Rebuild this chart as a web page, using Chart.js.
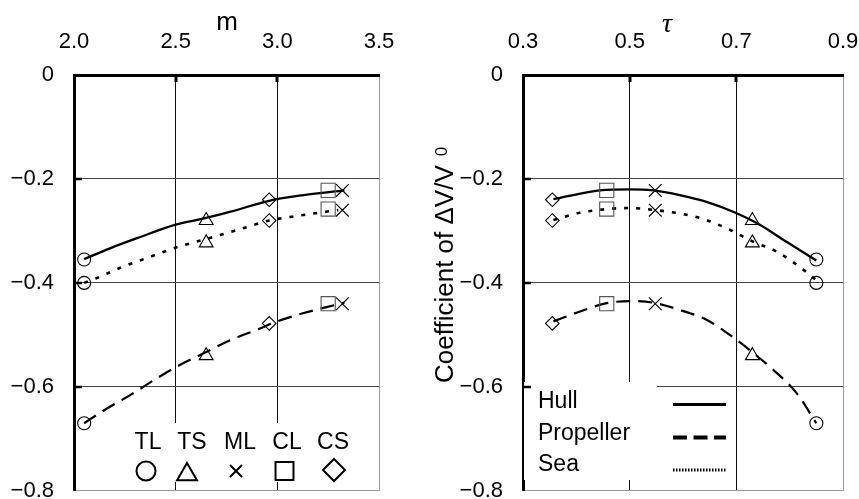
<!DOCTYPE html>
<html><head><meta charset="utf-8">
<script src="https://cdn.jsdelivr.net/npm/chart.js@4"></script>
<style>
html,body{margin:0;padding:0;background:#fff;overflow:hidden;width:859px;height:499px}
#w1{position:absolute;left:0;top:0;width:430px;height:524px}
#w2{position:absolute;left:430px;top:0;width:429px;height:524px}
</style></head><body>
<div id="w1"><canvas id="c1"></canvas></div>
<div id="w2"><canvas id="c2"></canvas></div>
<script>
// ---- data ----
const conditions = ['TL','TS','ML','CL','CS'];
const mValues   = [2.05, 2.65, 3.32, 3.25, 2.96];
const tauValues = [0.85, 0.73, 0.548, 0.457, 0.355];
const hullValues = [-0.355, -0.280, -0.222, -0.222, -0.240];
const seaValues  = [-0.400, -0.323, -0.260, -0.258, -0.280];
const propValues = [-0.670, -0.540, -0.440, -0.440, -0.478];

// fitted curves vs m
const hullFitM    = [2.05, 2.18, 2.31, 2.50, 2.64, 2.77, 2.96, 3.13, 3.33];
const hullFitMVal = [-0.354, -0.333, -0.314, -0.288, -0.276, -0.263, -0.242, -0.231, -0.222];
const seaFitM     = [2.05, 2.11, 2.24, 2.38, 2.51, 2.70, 2.83, 2.96, 3.10, 3.24, 3.30];
const seaFitMVal  = [-0.400, -0.391, -0.369, -0.349, -0.331, -0.310, -0.295, -0.280, -0.271, -0.263, -0.260];
const propFitM    = [2.05, 2.14, 2.28, 2.41, 2.52, 2.64, 2.77, 2.90, 3.00, 3.13, 3.29, 3.33];
const propFitMVal = [-0.670, -0.647, -0.615, -0.583, -0.558, -0.535, -0.510, -0.490, -0.474, -0.458, -0.442, -0.438];
// fitted curves vs tau
const hullFitT    = [0.357, 0.394, 0.444, 0.501, 0.544, 0.594, 0.644, 0.694, 0.744, 0.794, 0.850];
const hullFitTVal = [-0.239, -0.231, -0.222, -0.220, -0.222, -0.231, -0.244, -0.263, -0.288, -0.321, -0.357];
const seaFitT     = [0.357, 0.407, 0.457, 0.501, 0.557, 0.607, 0.644, 0.688, 0.732, 0.776, 0.826, 0.850];
const seaFitTVal  = [-0.279, -0.265, -0.258, -0.256, -0.261, -0.269, -0.279, -0.298, -0.321, -0.340, -0.375, -0.395];
const propFitT    = [0.357, 0.407, 0.457, 0.501, 0.544, 0.594, 0.644, 0.701, 0.732, 0.769, 0.813, 0.850];
const propFitTVal = [-0.474, -0.455, -0.439, -0.435, -0.438, -0.452, -0.471, -0.510, -0.535, -0.567, -0.612, -0.670];

const seriesNames = ['Hull','Propeller','Sea'];
const mTicks = [2.0, 2.5, 3.0, 3.5];
const tauTicks = [0.3, 0.5, 0.7, 0.9];
const yTicks = [0, -0.2, -0.4, -0.6, -0.8];

// ---- styles ----
const FONT = "'Liberation Sans', Arial, sans-serif";
const markerStyles = {TL:'circle', TS:'triangle', ML:'crossRot', CL:'rect', CS:'rectRot'};
const markerRadius = {TL:6.5, TS:8, ML:9, CL:10, CS:6.8};
const markerColor  = {TL:'#000', TS:'#000', ML:'#000', CL:'#555', CS:'#000'};
const lineStyles = {
  Hull: {dash: [], width: 2.3},
  Propeller: {dash: [14, 8], width: 2.2},
  Sea: {dash: [4, 8], width: 2.6}
};

Chart.defaults.font.family = FONT;
Chart.defaults.color = '#000';

function pts(xs, ys){ return xs.map((x,i)=>({x:x, y:ys[i]})); }

function lineDs(name, data){
  const s = lineStyles[name];
  return {label:name, data:data, showLine:true, pointRadius:0, borderColor:'#000',
    borderWidth:s.width, borderDash:s.dash, cubicInterpolationMode:'monotone', fill:false, order:2};
}
function markerDs(name, xs, ys){
  return {label:name+' data', data:pts(xs, ys), showLine:false,
    pointStyle: conditions.map(c=>markerStyles[c]),
    pointRadius: conditions.map(c=>markerRadius[c]),
    pointBorderColor: conditions.map(c=>markerColor[c]),
    pointBackgroundColor:'rgba(0,0,0,0)', pointBorderWidth:1.1, order:1};
}

const overlay = {
  id:'overlay',
  beforeDatasetsDraw(chart, args, opts){
    const ctx = chart.ctx, a = chart.chartArea;
    ctx.save();
    ctx.fillStyle = '#fff';
    const r = opts.box;
    ctx.fillRect(r[0], r[1], r[2], r[3]);
    ctx.strokeStyle = '#000';
    const xs = chart.scales.x, ys = chart.scales.y;
    ctx.lineWidth = 3;
    opts.xTicks.slice(1, -1).forEach(v=>{
      const px = Math.round(xs.getPixelForValue(v));
      ctx.beginPath(); ctx.moveTo(px, a.top); ctx.lineTo(px, a.top+7); ctx.stroke();
    });
    ctx.lineWidth = 2.5;
    yTicks.slice(1, -1).forEach(v=>{
      const py = Math.round(ys.getPixelForValue(v));
      ctx.beginPath(); ctx.moveTo(a.left, py); ctx.lineTo(a.left+8, py); ctx.stroke();
    });
    ctx.restore();
  },
  afterDraw(chart, args, opts){
    const ctx = chart.ctx, a = chart.chartArea;
    ctx.save();
    ctx.fillStyle = '#000';
    ctx.textBaseline = 'alphabetic';
    ctx.textAlign = 'center';
    ctx.font = opts.titleFont;
    ctx.fillText(opts.title, opts.titleX, opts.titleY);
    opts.extra(ctx, a);
    ctx.restore();
  }
};

function makeChart(id, xs, xMin, xMax, xTickArr, fits, yWidth, padRight, ov){
  const hull = lineDs('Hull', pts(fits[0][0], fits[0][1]));
  const prop = lineDs('Propeller', pts(fits[1][0], fits[1][1]));
  const sea = lineDs('Sea', pts(fits[2][0], fits[2][1]));
  return new Chart(document.getElementById(id), {
    type:'scatter',
    data:{datasets:[hull, prop, sea,
      markerDs('Hull', xs, hullValues), markerDs('Propeller', xs, propValues), markerDs('Sea', xs, seaValues)]},
    options:{
      responsive:true, maintainAspectRatio:false, animation:false, devicePixelRatio:1,
      layout:{padding:{left:0, right:padRight, top:0, bottom:29}},
      plugins:{legend:{display:false}, tooltip:{enabled:false}, overlay:ov},
      scales:{
        x:{type:'linear', position:'top', min:xMin, max:xMax,
          afterBuildTicks:s=>{ s.ticks = xTickArr.map(v=>({value:v})); },
          afterFit:s=>{ s.height = 75; s.paddingLeft = 0; s.paddingRight = 0; },
          ticks:{padding:20, maxRotation:0, autoSkip:false, font:{size:22}, color:'#000',
            callback:v=>Number(v).toFixed(1)},
          grid:{drawTicks:false, lineWidth:1,
            color:c=> (c.tick && Math.abs(c.tick.value - xMax) < 1e-6) ? '#999' : '#111'},
          border:{display:true, width:3, color:'#000'}
        },
        y:{type:'linear', min:-0.8, max:0,
          afterBuildTicks:s=>{ s.ticks = yTicks.map(v=>({value:v})); },
          afterFit:s=>{ s.width = yWidth; },
          ticks:{padding:20, font:{size:22}, color:'#000',
            callback:v=> Math.abs(v) < 1e-9 ? '0' : '\u2212' + Math.abs(v).toFixed(1)},
          grid:{drawTicks:false, lineWidth:1,
            color:c=> { if(!c.tick) return '#444'; const v=c.tick.value;
              if (Math.abs(v+0.8)<1e-6) return '#999'; if (Math.abs(v)<1e-6) return 'rgba(0,0,0,0)'; return '#444'; }},
          border:{display:true, width:3, color:'#000'}
        }
      }
    },
    plugins:[overlay]
  });
}

makeChart('c1', mValues, 2.0, 3.5, mTicks,
  [[hullFitM, hullFitMVal], [propFitM, propFitMVal], [seaFitM, seaFitMVal]], 74, 51,
  {box:[112, 423, 266, 59], xTicks:mTicks, title:'m', titleFont:'26px '+FONT, titleX:227, titleY:30,
   extra:(ctx, a)=>{
     ctx.font = '23px '+FONT;
     const lx = [148, 192, 240, 287, 333];
     conditions.forEach((c,i)=>ctx.fillText(c, lx[i], 449));
     const sx = [146, 187, 236, 284.5, 334];
     const sy = [471, 474.5, 471, 471, 470];
     const sr = {TL:9.5, TS:11.5, ML:8.5, CL:12.7, CS:11};
     conditions.forEach((c,i)=>{
       ctx.strokeStyle = '#000'; ctx.fillStyle = 'rgba(0,0,0,0)';
       ctx.lineWidth = 2;
       Chart.helpers.drawPoint(ctx, {pointStyle:markerStyles[c], radius:sr[c], rotation:0, borderWidth:2}, sx[i], sy[i]);
     });
   }});

makeChart('c2', tauValues, 0.3, 0.9, tauTicks,
  [[hullFitT, hullFitTVal], [propFitT, propFitTVal], [seaFitT, seaFitTVal]], 93, 16,
  {box:[94, 382, 133, 98], xTicks:tauTicks, title:'\u03C4', titleFont:'italic 28px "Liberation Serif", serif', titleX:237, titleY:32,
   extra:(ctx, a)=>{
     ctx.save();
     ctx.translate(23, 383);
     ctx.rotate(-Math.PI/2);
     ctx.textAlign = 'left';
     ctx.font = '26px '+FONT;
     const main = 'Coefficient of \u0394V/V';
     ctx.fillText(main, 0, 0);
     const w = ctx.measureText(main).width;
     ctx.font = '17px '+FONT;
     ctx.fillText('0', w + 9, -6);
     ctx.restore();
     ctx.textAlign = 'left';
     ctx.font = '23px '+FONT;
     ctx.fillStyle = '#000';
     const ty = [408, 440, 470.5];
     const ly = [404.5, 437.5, 470];
     seriesNames.forEach((n,i)=>ctx.fillText(n, 108, ty[i]));
     ctx.strokeStyle = '#000';
     const legStyle = [{d:[], w:2.8}, {d:[14,6.5], w:4}, {d:[1.5,1.5], w:2.8}];
     seriesNames.forEach((n,i)=>{
       ctx.lineWidth = legStyle[i].w; ctx.setLineDash(legStyle[i].d);
       ctx.beginPath(); ctx.moveTo(243, ly[i]); ctx.lineTo(296, ly[i]); ctx.stroke();
     });
     ctx.setLineDash([]);
   }});
</script>
</body></html>
